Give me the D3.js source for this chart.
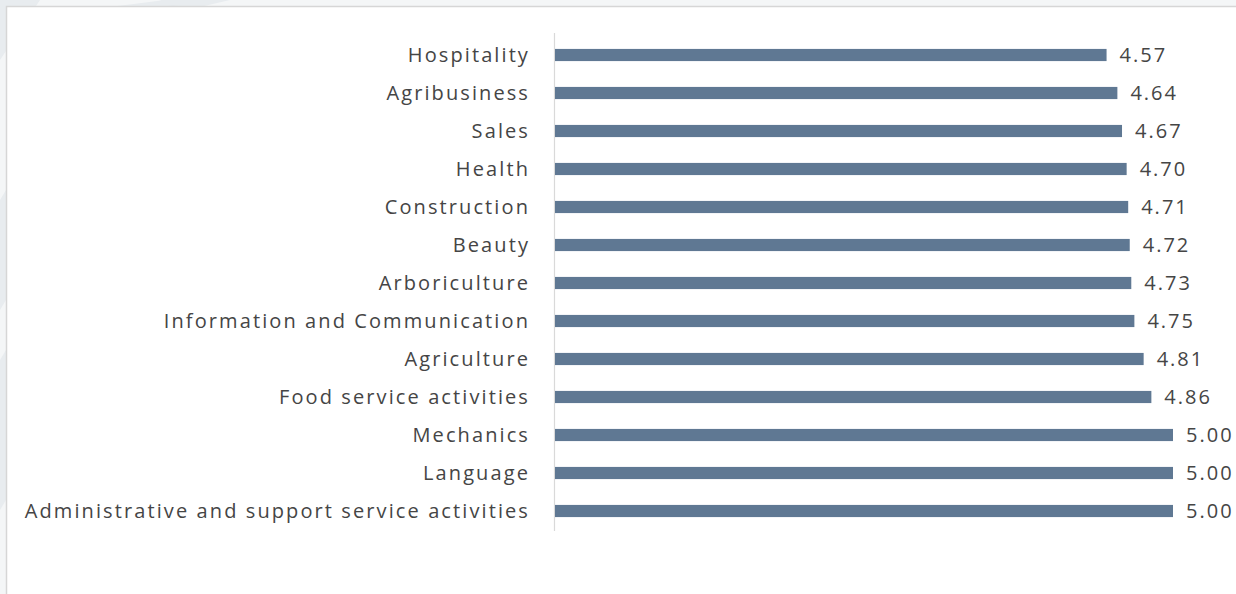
<!DOCTYPE html>
<html>
<head>
<meta charset="utf-8">
<script src="https://cdn.jsdelivr.net/npm/d3@7"></script>
<style>
  body { margin: 0; background: #ffffff; }
  svg { display: block; }
</style>
</head>
<body>
<div id="chart"></div>
<script>
// categories, top to bottom
const categories = [
  'Hospitality', 'Agribusiness', 'Sales', 'Health', 'Construction', 'Beauty',
  'Arboriculture', 'Information and Communication', 'Agriculture',
  'Food service activities', 'Mechanics', 'Language',
  'Administrative and support service activities'
];
const values = [4.57, 4.64, 4.67, 4.70, 4.71, 4.72, 4.73, 4.75, 4.81, 4.86, 5.00, 5.00, 5.00];
const xDomain = [1, 5];

const width = 1236, height = 594;

const svg = d3.select('#chart')
  .append('svg')
  .attr('width', width)
  .attr('height', height);

// page background behind the panel
svg.append('rect')
  .attr('width', width).attr('height', height)
  .attr('fill', '#f4f6f7');
const bgShapes = [
  [[0, 0], [40, 0], [0, 60]],
  [[0, 0], [38, 0], [0, 7]],
  [[160, 0], [230, 0], [200, 7], [170, 7]],
  [[165, 0], [185, 7], [110, 7]],
  [[0, 200], [6, 190], [6, 300], [0, 310]],
  [[0, 360], [6, 350], [6, 500], [0, 510]]
];
svg.selectAll('.bg')
  .data(bgShapes)
  .enter()
  .append('polygon')
  .attr('points', d => d.join(' '))
  .attr('fill', '#e8ecef');
svg.append('circle').attr('cx', 173).attr('cy', 16).attr('r', 11).attr('fill', '#e6eaed');

// white panel
svg.append('rect')
  .attr('x', 6.5).attr('y', 6.5)
  .attr('width', width).attr('height', height)
  .attr('fill', '#ffffff')
  .attr('stroke', '#d6d6d6')
  .attr('stroke-width', 1.5);

//Scales
const x = d3.scaleLinear()
  .domain(xDomain)
  .range([555, 1173]);

const y = d3.scaleBand()
  .domain(categories)
  .range([36, 530])
  .paddingInner(0.68)
  .paddingOuter(0.34);

//Axis line
svg.append('line')
  .attr('x1', 554.5).attr('x2', 554.5)
  .attr('y1', 33).attr('y2', 531)
  .attr('stroke', '#d9d9d9')
  .attr('stroke-width', 1.2);

//Bars
svg.append('g')
  .selectAll('rect')
  .data(values)
  .enter()
  .append('rect')
  .attr('x', x(xDomain[0]))
  .attr('y', (d, i) => y(categories[i]))
  .attr('width', d => x(d) - x(xDomain[0]))
  .attr('height', y.bandwidth())
  .attr('fill', '#5f7893');

const font = "'Open Sans', sans-serif";

//Category labels
svg.append('g')
  .selectAll('text')
  .data(categories)
  .enter()
  .append('text')
  .attr('x', 530)
  .attr('y', d => y(d) + y.bandwidth() / 2)
  .attr('dy', '0.34em')
  .attr('text-anchor', 'end')
  .attr('fill', '#454545')
  .style('font-family', font)
  .style('font-size', '20px')
  .style('letter-spacing', '2.1px')
  .text(d => d);

//Value labels
svg.append('g')
  .selectAll('text')
  .data(values)
  .enter()
  .append('text')
  .attr('x', d => x(d) + 13)
  .attr('y', (d, i) => y(categories[i]) + y.bandwidth() / 2)
  .attr('dy', '0.34em')
  .attr('fill', '#454545')
  .style('font-family', font)
  .style('font-size', '20px')
  .style('letter-spacing', '2px')
  .text(d => d3.format('.2f')(d));
</script>
</body>
</html>
